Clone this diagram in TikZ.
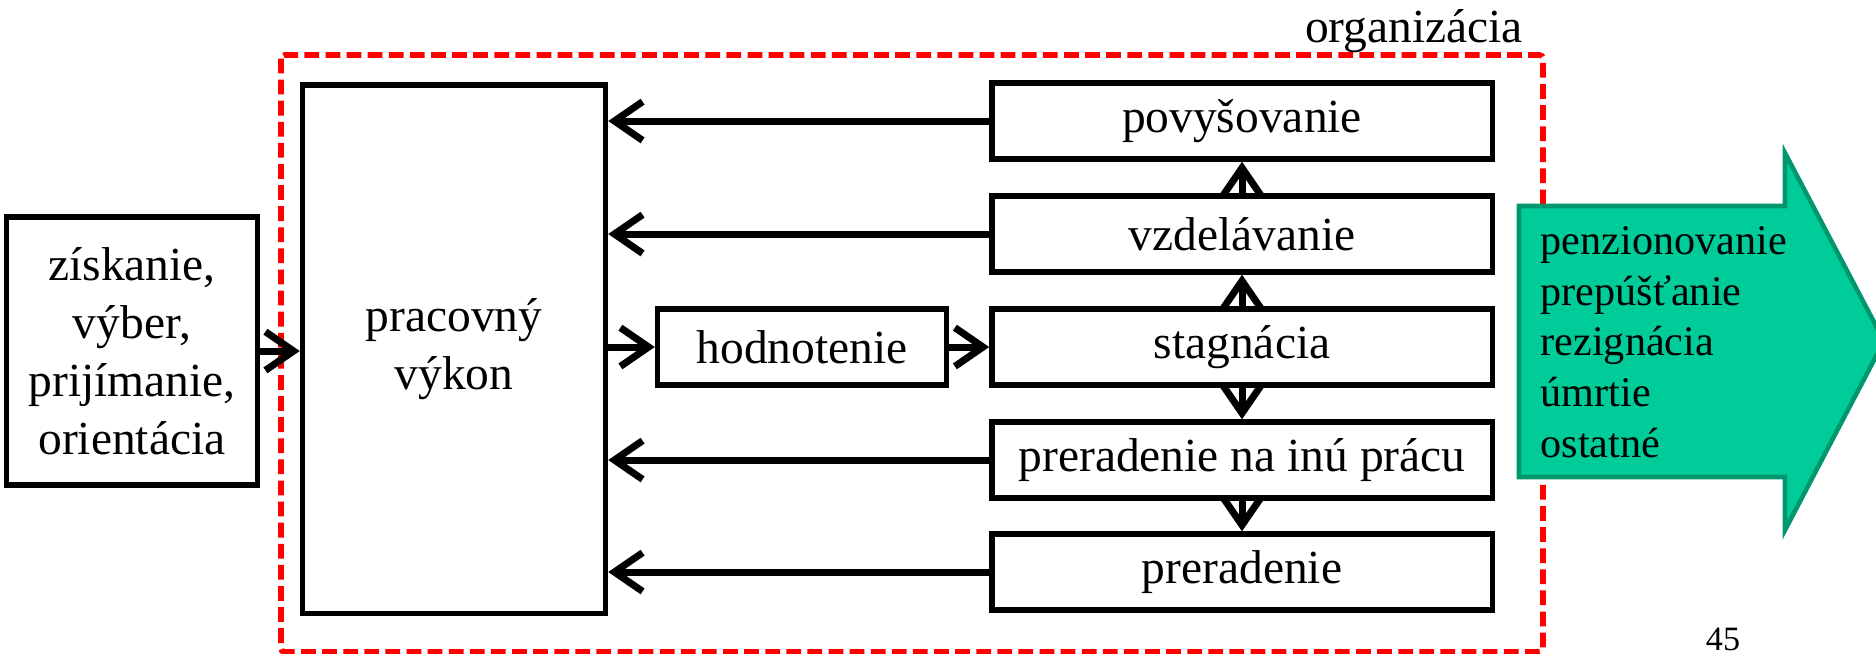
\documentclass[tikz,border=0pt]{standalone}
\usepackage{fontspec}
\setmainfont{Liberation Serif}
\usepackage{tikz}
\usetikzlibrary{arrows.meta,positioning}

\definecolor{exitgreen}{RGB}{0,204,153}
\definecolor{exitborder}{RGB}{0,150,110}

\begin{document}
\begin{tikzpicture}[x=0.01cm,y=-0.01cm,
    >={Straight Barb[length=8pt,width=11pt]},
    every node/.style={font=\fontsize{13.5}{16.5}\selectfont},
    box/.style={draw,rectangle,line width=1.5pt,inner sep=0pt,align=center},
    rbox/.style={box,minimum width=5cm,minimum height=0.76cm},
    link/.style={->,line width=2pt}]
    \useasboundingbox (0,0) rectangle (1876,653);
    % organization border
    \draw [red,line width=1.6pt,dash pattern=on 4.2pt off 1.8pt,rounded corners=1pt] (281,55) rectangle (1543,652);
    \node (org) [anchor=base] at (1414,42) {organizácia};
    \path
        (132,351)  node [box,minimum width=2.51cm,minimum height=2.68cm] (zisk) {získanie,\\výber,\\prijímanie,\\orientácia}
        (454,349)  node [box,minimum width=3.03cm,minimum height=5.28cm] (vykon) {pracovný\\výkon}
        (802,347)  node [box,minimum width=2.89cm,minimum height=0.76cm] (hodn) {hodnotenie}
        ;
    \path
        (1242,121) node [rbox] (povys) {povyšovanie}
     ++ (0,113)    node [rbox] (vzdel) {vzdelávanie}
     ++ (0,113)    node [rbox] (stagn) {stagnácia}
     ++ (0,113)    node [rbox] (inaprac) {preradenie na inú prácu}
     ++ (0,112)    node [rbox] (prerad) {preradenie}
     ;
    \draw [link] (zisk.east) -- (zisk.east -| vykon.west);
    \draw [link] (hodn.west -| vykon.east) -- (hodn.west);
    \draw [link] (hodn) -- (stagn);
    \draw [link] (stagn) -- (vzdel);
    \draw [link] (vzdel) -- (povys);
    \draw [link] (stagn) -- (inaprac);
    \draw [link] (inaprac) -- (prerad);
    \draw [link] (povys.west) -- (povys.west -| vykon.east);
    \draw [link] (vzdel.west) -- (vzdel.west -| vykon.east);
    \draw [link] (inaprac.west) -- (inaprac.west -| vykon.east);
    \draw [link] (prerad.west) -- (prerad.west -| vykon.east);
    % leaving the organization
    \draw [fill=exitgreen,draw=exitborder,line width=1.3pt]
        (1519,206) -- (1785,206) -- (1785,153) -- (1884,341) -- (1785,530) -- (1785,477) -- (1519,477) -- cycle;
    \node (exits) [anchor=west,align=left,inner sep=0pt,font=\fontsize{12}{14.4}\selectfont] at (1540,342)
        {penzionovanie\\prepúšťanie\\rezignácia\\úmrtie\\ostatné};
    \node (pagenum) [anchor=base,font=\fontsize{9.7}{11}\selectfont] at (1723,650) {45};
\end{tikzpicture}
\end{document}
